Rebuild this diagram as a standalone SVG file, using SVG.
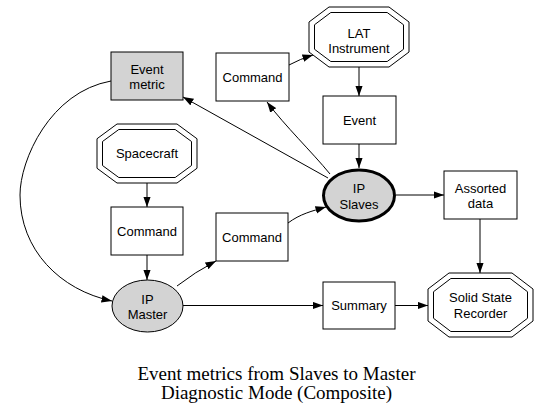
<svg xmlns="http://www.w3.org/2000/svg" width="551" height="416" viewBox="0 0 551 416">
<style>
  .box { fill: #ffffff; stroke: #000000; stroke-width: 1; }
  .gray { fill: #d3d3d3; stroke: #000000; stroke-width: 1; }
  .oct { fill: #ffffff; stroke: #000000; stroke-width: 1; }
  .oct2 { fill: none; stroke: #000000; stroke-width: 1; }
  .lbl { font-family: "Liberation Sans", Arial, sans-serif; font-size: 13px; fill: #000000; text-anchor: middle; }
  .title { font-family: "Liberation Serif", "Times New Roman", serif; font-size: 19px; fill: #000000; text-anchor: middle; }
  .edge { fill: none; stroke: #000000; stroke-width: 1; }
</style>
<defs>
  <marker id="arr" markerWidth="11" markerHeight="8" refX="10.5" refY="3.75" orient="auto" markerUnits="userSpaceOnUse">
    <path d="M0,0 L10.5,3.75 L0,7.5 z" fill="#000000"/>
  </marker>
</defs>
<rect width="551" height="416" fill="#ffffff"/>

<g id="edges">
  <path class="edge" d="M328,178 L183,97" marker-end="url(#arr)"/>
  <path class="edge" d="M330,174 C312,152 285,126 267,102" marker-end="url(#arr)"/>
  <path class="edge" d="M289,65 Q300,59 313,55" marker-end="url(#arr)"/>
  <path class="edge" d="M359,67 L359,96" marker-end="url(#arr)"/>
  <path class="edge" d="M359,144 L359,168" marker-end="url(#arr)"/>
  <path class="edge" d="M396,195 L444,195" marker-end="url(#arr)"/>
  <path class="edge" d="M480,219 L480,273" marker-end="url(#arr)"/>
  <path class="edge" d="M147,183 L147,207" marker-end="url(#arr)"/>
  <path class="edge" d="M147,255 L147,280" marker-end="url(#arr)"/>
  <path class="edge" d="M177,286 Q195,272 216,261" marker-end="url(#arr)"/>
  <path class="edge" d="M288,223 C300,214 312,211 326,207" marker-end="url(#arr)"/>
  <path class="edge" d="M183,305.5 L323,305.5" marker-end="url(#arr)"/>
  <path class="edge" d="M395,305.5 L428,305.5" marker-end="url(#arr)"/>
  <path class="edge" d="M111,81 C50,92 20,160 20,195 C20,250 60,290 112,301" marker-end="url(#arr)"/>
</g>

<g id="event_metric">
  <rect class="gray" x="111" y="52" width="72" height="48"/>
  <text class="lbl" x="147" y="73.5">Event</text>
  <text class="lbl" x="147" y="89">metric</text>
</g>

<g id="command_top">
  <rect class="box" x="216" y="53" width="73" height="48"/>
  <text class="lbl" x="252.5" y="81.5">Command</text>
</g>

<g id="lat_instrument">
  <polygon class="oct" points="329,7 389,7 409,22 409,52 389,67 329,67 309,52 309,22"/>
  <polygon class="oct2" points="330.8,12.5 387.2,12.5 403.5,24.75 403.5,49.25 387.2,61.5 330.8,61.5 314.5,49.25 314.5,24.75"/>
  <text class="lbl" x="359" y="37.5">LAT</text>
  <text class="lbl" x="359" y="53">Instrument</text>
</g>

<g id="event">
  <rect class="box" x="323" y="96" width="73" height="48"/>
  <text class="lbl" x="359.5" y="124.5">Event</text>
</g>

<g id="ip_slaves">
  <ellipse cx="359" cy="195.5" rx="35.5" ry="25.5" fill="#d3d3d3" stroke="#000000" stroke-width="3"/>
  <text class="lbl" x="359" y="193">IP</text>
  <text class="lbl" x="359" y="208.5">Slaves</text>
</g>

<g id="assorted_data">
  <rect class="box" x="444" y="171" width="73" height="48"/>
  <text class="lbl" x="480.5" y="192.5">Assorted</text>
  <text class="lbl" x="480.5" y="208">data</text>
</g>

<g id="spacecraft">
  <polygon class="oct" points="117,124 177,124 197,138.75 197,168.25 177,183 117,183 97,168.25 97,138.75"/>
  <polygon class="oct2" points="118.8,129.5 175.2,129.5 191.5,141.5 191.5,165.5 175.2,177.5 118.8,177.5 102.5,165.5 102.5,141.5"/>
  <text class="lbl" x="147" y="158">Spacecraft</text>
</g>

<g id="command_left">
  <rect class="box" x="111" y="207" width="72" height="48"/>
  <text class="lbl" x="147" y="235.5">Command</text>
</g>

<g id="command_mid">
  <rect class="box" x="216" y="213" width="72" height="48"/>
  <text class="lbl" x="252" y="241.5">Command</text>
</g>

<g id="ip_master">
  <ellipse cx="147.5" cy="306" rx="35.5" ry="26" fill="#d3d3d3" stroke="#000000" stroke-width="1"/>
  <text class="lbl" x="147.5" y="303.5">IP</text>
  <text class="lbl" x="147.5" y="319">Master</text>
</g>

<g id="summary">
  <rect class="box" x="323" y="282" width="72" height="47"/>
  <text class="lbl" x="359" y="310">Summary</text>
</g>

<g id="solid_state_recorder">
  <polygon class="oct" points="449,273 512,273 533,289 533,321 512,337 449,337 428,321 428,289"/>
  <polygon class="oct2" points="450.85,278.5 510.15,278.5 527.5,291.72 527.5,318.28 510.15,331.5 450.85,331.5 433.5,318.28 433.5,291.72"/>
  <text class="lbl" x="480.5" y="302">Solid State</text>
  <text class="lbl" x="480.5" y="318">Recorder</text>
</g>

<g id="caption">
  <text class="title" x="276.5" y="380">Event metrics from Slaves to Master</text>
  <text class="title" x="276.5" y="399">Diagnostic Mode (Composite)</text>
</g>
</svg>
